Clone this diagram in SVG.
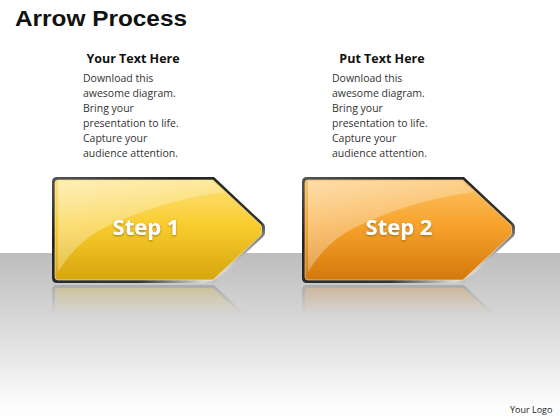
<svg xmlns="http://www.w3.org/2000/svg" xmlns:xlink="http://www.w3.org/1999/xlink" width="560" height="420" viewBox="0 0 560 420">
<style>
.title{font-family:"Liberation Sans",Arial,sans-serif;font-weight:bold;font-size:22px;fill:#111}
.head{font-family:"Open Sans","Liberation Sans",sans-serif;font-weight:bold;font-size:12.5px;fill:#111;text-anchor:middle}
.body{font-family:"Open Sans","Liberation Sans",sans-serif;font-size:10.5px;fill:#333}
.step{font-family:"Open Sans","Liberation Sans",sans-serif;font-weight:bold;font-size:22px;fill:#fff;text-anchor:middle}
.logo{font-family:"Open Sans","Liberation Sans",sans-serif;font-size:9px;fill:#222}
</style>
<defs>
<linearGradient id="floor" x1="0" y1="0" x2="0" y2="1">
<stop offset="0" stop-color="#bdbdbd"/>
<stop offset="0.35" stop-color="#d4d4d4"/>
<stop offset="0.9" stop-color="#fbfbfb"/>
<stop offset="1" stop-color="#ffffff"/>
</linearGradient>
<linearGradient id="metal" x1="0" y1="0" x2="1" y2="1">
<stop offset="0" stop-color="#555"/>
<stop offset="0.3" stop-color="#222"/>
<stop offset="0.7" stop-color="#333"/>
<stop offset="0.85" stop-color="#d8d8d8"/>
<stop offset="1" stop-color="#444"/>
</linearGradient>
<linearGradient id="yel" x1="0" y1="0" x2="0" y2="1">
<stop offset="0" stop-color="#fde27c"/>
<stop offset="0.45" stop-color="#f9cc2e"/>
<stop offset="1" stop-color="#d6a60e"/>
</linearGradient>
<linearGradient id="org" x1="0" y1="0" x2="0" y2="1">
<stop offset="0" stop-color="#fcc264"/>
<stop offset="0.45" stop-color="#f7a32c"/>
<stop offset="1" stop-color="#d4780c"/>
</linearGradient>
<linearGradient id="gloss" x1="0" y1="0" x2="1" y2="1">
<stop offset="0" stop-color="#fff" stop-opacity="0.45"/>
<stop offset="1" stop-color="#fff" stop-opacity="0.08"/>
</linearGradient>
<linearGradient id="fade" x1="0" y1="0" x2="0" y2="1">
<stop offset="0" stop-color="#fff" stop-opacity="0.45"/>
<stop offset="1" stop-color="#fff" stop-opacity="0"/>
</linearGradient>
<mask id="refmask" maskContentUnits="userSpaceOnUse">
<rect x="0" y="284" width="560" height="30" fill="url(#fade)"/>
</mask>
<path id="outer" d="M57,177 L214,177 L263,223 Q265,225 265,227 L265,233 Q265,235 263,237 L214,283 L57,283 Q52,283 52,278 L52,182 Q52,177 57,177 Z"/>
<path id="inner" d="M58,180 L213,180 L260,224 Q261.5,225.5 261.5,227 L261.5,233 Q261.5,234.5 260,236 L213,280 L58,280 Q55,280 55,277 L55,183 Q55,180 58,180 Z"/>
<path id="glossp" d="M58,181 L212,181 L224,192 Q160,200 100,230 Q75,244 58,272 Z"/>
<filter id="sh" x="-20%" y="-30%" width="140%" height="160%">
<feDropShadow dx="0" dy="1" stdDeviation="1" flood-color="#7a5a00" flood-opacity="0.7"/>
</filter>
</defs>
<rect width="560" height="420" fill="#fff"/>
<rect x="0" y="253" width="560" height="167" fill="url(#floor)"/>
<text class="title" x="15" y="26" textLength="172" lengthAdjust="spacingAndGlyphs">Arrow Process</text>
<g id="text1">
<text class="head" x="133" y="63">Your Text Here</text>
<text class="body" x="83" y="82">Download this</text>
<text class="body" x="83" y="97">awesome diagram.</text>
<text class="body" x="83" y="112">Bring your</text>
<text class="body" x="83" y="127">presentation to life.</text>
<text class="body" x="83" y="142">Capture your</text>
<text class="body" x="83" y="157">audience attention.</text>
</g>
<g id="text2">
<text class="head" x="382" y="63">Put Text Here</text>
<text class="body" x="332" y="82">Download this</text>
<text class="body" x="332" y="97">awesome diagram.</text>
<text class="body" x="332" y="112">Bring your</text>
<text class="body" x="332" y="127">presentation to life.</text>
<text class="body" x="332" y="142">Capture your</text>
<text class="body" x="332" y="157">audience attention.</text>
</g>
<g id="connectors"></g>
<g id="step1">
<g mask="url(#refmask)" opacity="0.6">
<g transform="translate(0,568) scale(1,-1)">
<use xlink:href="#outer" fill="#555"/>
<use xlink:href="#inner" fill="url(#yel)"/>
</g>
</g>
<use xlink:href="#outer" fill="url(#metal)"/>
<use xlink:href="#inner" fill="url(#yel)" stroke="#fff3c0" stroke-width="0.6"/>
<use xlink:href="#glossp" fill="url(#gloss)"/>
<text class="step" x="146" y="235" filter="url(#sh)">Step 1</text>
</g>
<g id="step2">
<g transform="translate(250,0)">
<g mask="url(#refmask)" opacity="0.6">
<g transform="translate(0,568) scale(1,-1)">
<use xlink:href="#outer" fill="#555"/>
<use xlink:href="#inner" fill="url(#org)"/>
</g>
</g>
<use xlink:href="#outer" fill="url(#metal)"/>
<use xlink:href="#inner" fill="url(#org)" stroke="#ffe0b0" stroke-width="0.6"/>
<use xlink:href="#glossp" fill="url(#gloss)"/>
</g>
<text class="step" x="399" y="235" filter="url(#sh)">Step 2</text>
</g>
<text class="logo" x="510" y="413">Your Logo</text>
</svg>
